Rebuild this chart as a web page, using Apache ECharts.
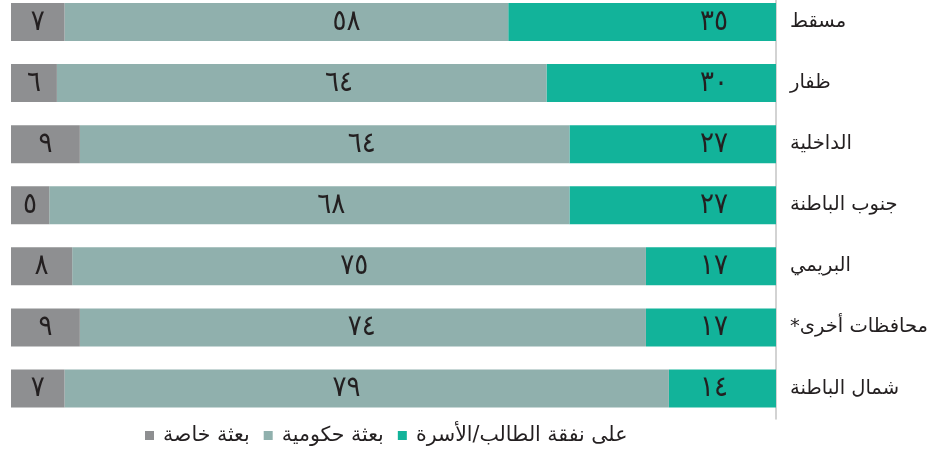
<!DOCTYPE html>
<html>
<head>
<meta charset="utf-8">
<script src="https://cdn.jsdelivr.net/npm/echarts@6/dist/echarts.min.js"></script>
<style>
  html, body { margin: 0; padding: 0; background: #fff; }
  #chart { width: 939px; height: 451px; }
</style>
</head>
<body>
<div id="chart"></div>
<script>
// المحافظات (من الأعلى إلى الأسفل)
const regions = ['مسقط', 'ظفار', 'الداخلية', 'جنوب الباطنة', 'البريمي', 'محافظات أخرى*\u200F', 'شمال الباطنة'];
const selfFunded = [35, 30, 27, 27, 17, 17, 14];
const govScholarship = [58, 64, 64, 68, 75, 74, 79];
const privateScholarship = [7, 6, 9, 5, 8, 9, 7];
const seriesNames = ['على نفقة الطالب/الأسرة', 'بعثة حكومية', 'بعثة خاصة'];

const arDigits = '٠١٢٣٤٥٦٧٨٩';
const toArabic = (n) => String(n).replace(/\d/g, (d) => arDigits[d]);

const font = "'DejaVu Sans', sans-serif";
const labelStyle = {
  show: true,
  color: '#231f20',
  fontSize: 29,
  fontFamily: "'DejaVu Sans Condensed', 'DejaVu Sans', sans-serif",
  formatter: (p) => toArabic(p.value),
};

const chart = echarts.init(document.getElementById('chart'));

const option = {
  animation: false,
  grid: {
    left: 11,
    right: 163,
    top: -8.5,
    bottom: 32,
    outerBoundsMode: 'none',
  },
  legend: {
    top: 420,
    left: 140,
    align: 'left',
    itemWidth: 9,
    itemHeight: 9,
    itemGap: 14,
    icon: 'rect',
    data: [seriesNames[2], seriesNames[1], seriesNames[0]],
    formatter: (name) => '\u2009' + name,
    textStyle: { fontSize: 20.5, color: '#231f20', fontFamily: font },
  },
  xAxis: {
    type: 'value',
    min: 0,
    max: 100,
    inverse: true,
    show: false,
  },
  yAxis: {
    type: 'category',
    data: regions,
    inverse: true,
    position: 'right',
    axisLine: { show: true, lineStyle: { color: '#c4c4c4', width: 1.5 } },
    axisTick: { show: false },
    axisLabel: {
      margin: 14,
      fontSize: 19.5,
      color: '#231f20',
      fontFamily: font,
    },
  },
  series: [
    {
      name: seriesNames[0],
      type: 'bar',
      stack: 'total',
      barWidth: 38,
      data: selfFunded,
      itemStyle: { color: '#12b39a' },
      label: { ...labelStyle, position: 'insideRight', distance: 48 },
    },
    {
      name: seriesNames[1],
      type: 'bar',
      stack: 'total',
      barWidth: 38,
      data: govScholarship,
      itemStyle: { color: '#90b0ad' },
      label: { ...labelStyle, position: 'insideLeft', distance: 268 },
    },
    {
      name: seriesNames[2],
      type: 'bar',
      stack: 'total',
      barWidth: 38,
      data: privateScholarship,
      itemStyle: { color: '#8e8f91' },
      label: { ...labelStyle, position: 'inside' },
    },
  ],
};

chart.setOption(option);
</script>
</body>
</html>
